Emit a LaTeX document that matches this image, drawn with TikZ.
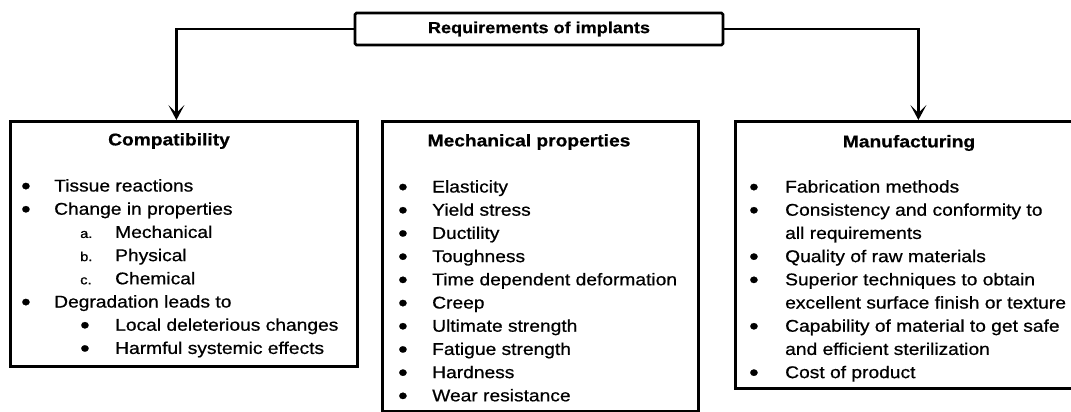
\documentclass[tikz,border=0pt]{standalone}
\usepackage{fontspec}
\setmainfont{Liberation Sans}[FakeStretch=1.13, FakeBold=0.7]
\usetikzlibrary{arrows.meta}

\newcommand{\bitem}[2]{\makebox[#1][l]{\raisebox{-2.5pt}{\fontsize{24}{23.2}\selectfont •}}#2}
\newcommand{\sublabel}[1]{{\fontsize{13}{23.2}\selectfont #1}}

\begin{document}
\begin{tikzpicture}[x=1pt, y=-1pt,
  panel/.style={draw, line width=2.8pt, inner sep=0pt, anchor=north west},
  heading/.style={font=\bfseries\fontsize{17}{17}\selectfont, inner sep=0pt},
  itemlist/.style={font=\fontsize{17}{23.2}\selectfont, align=left, inner sep=0pt, anchor=north west},
  link/.style={line width=2.4pt, -{Stealth[length=15pt, width=16pt, inset=8pt]}}]
  \useasboundingbox (0,0) rectangle (1071,412);

  \node[draw, line width=2.6pt, rounded corners=1.5pt, minimum width=368pt, minimum height=32pt,
    font=\bfseries\fontsize{16}{16}\selectfont] (req) at (539,29) {Requirements of implants};

  \node[panel, minimum width=347pt, minimum height=245pt] (compat) at (9,120) {};
  \node[panel, minimum width=316pt, minimum height=290pt] (mech) at (381,120) {};
  \node[panel, minimum width=366pt, minimum height=267pt] (manuf) at (734,120) {};

  \draw[link] (req.west) -| ([xshift=-7.5pt]compat.north);
  \draw[link] (req.east) -| (manuf.north);

  \node[heading] (compat-title) at (169,141) {Compatibility};
  \node[heading] (mech-title) at (529,142) {Mechanical properties};
  \node[heading] (manuf-title) at (909,143) {Manufacturing};

  \node[itemlist] (compat-list) at (21,179) {
    \bitem{33pt}{Tissue reactions}\\
    \bitem{33pt}{Change in properties}\\
    \hspace*{59pt}\makebox[35pt][l]{\sublabel{a.}}Mechanical\\
    \hspace*{59pt}\makebox[35pt][l]{\sublabel{b.}}Physical\\
    \hspace*{59pt}\makebox[35pt][l]{\sublabel{c.}}Chemical\\
    \bitem{33pt}{Degradation leads to}\\
    \hspace*{59pt}\bitem{35pt}{Local deleterious changes}\\
    \hspace*{59pt}\bitem{35pt}{Harmful systemic effects}};

  \node[itemlist] (mech-list) at (398,180) {
    \bitem{34pt}{Elasticity}\\
    \bitem{34pt}{Yield stress}\\
    \bitem{34pt}{Ductility}\\
    \bitem{34pt}{Toughness}\\
    \bitem{34pt}{Time dependent deformation}\\
    \bitem{34pt}{Creep}\\
    \bitem{34pt}{Ultimate strength}\\
    \bitem{34pt}{Fatigue strength}\\
    \bitem{34pt}{Hardness}\\
    \bitem{34pt}{Wear resistance}};

  \node[itemlist] (manuf-list) at (749,180) {
    \bitem{36pt}{Fabrication methods}\\
    \bitem{36pt}{Consistency and conformity to}\\
    \hspace*{36pt}all requirements\\
    \bitem{36pt}{Quality of raw materials}\\
    \bitem{36pt}{Superior techniques to obtain}\\
    \hspace*{36pt}excellent surface finish or texture\\
    \bitem{36pt}{Capability of material to get safe}\\
    \hspace*{36pt}and efficient sterilization\\
    \bitem{36pt}{Cost of product}};
\end{tikzpicture}
\end{document}
